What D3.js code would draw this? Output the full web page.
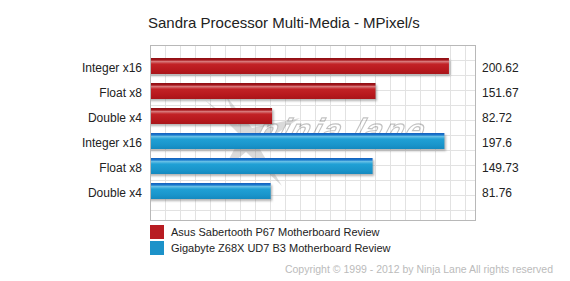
<!DOCTYPE html>
<html>
<head>
<meta charset="utf-8">
<script src="https://cdn.jsdelivr.net/npm/d3@7"></script>
<style>
  body { margin: 0; background: #fff; }
  svg text { font-family: "Liberation Sans", Arial, sans-serif; }
</style>
</head>
<body>
<div id="chart"></div>
<script>
// values
var categories = ["Integer x16", "Float x8", "Double x4", "Integer x16", "Float x8", "Double x4"];
var series = ["Asus Sabertooth P67 Motherboard Review", "Gigabyte Z68X UD7 B3 Motherboard Review"];
var values = [200.62, 151.67, 82.72, 197.6, 149.73, 81.76];
var valueLabels = ["200.62", "151.67", "82.72", "197.6", "149.73", "81.76"];
var seriesOf = [0, 0, 0, 1, 1, 1];
var title = "Sandra Processor Multi-Media - MPixel/s";
var copyright = "Copyright \u00a9 1999 - 2012 by Ninja Lane All rights reserved";

var svgWidth = 570, svgHeight = 281;
var plot = {left: 150, right: 475, top: 45, bottom: 220};

var svg = d3.select("#chart").append("svg")
  .attr("width", svgWidth)
  .attr("height", svgHeight);

var defs = svg.append("defs");

var grads = [
  {id: "gRed", stops: [[0, "#8c0f13"], [0.12, "#a3141a"], [0.22, "#d8787a"], [0.38, "#c22226"], [0.75, "#b7181d"], [1, "#a8151a"]]},
  {id: "gBlue", stops: [[0, "#145fbd"], [0.12, "#1a78cc"], [0.22, "#66bfe6"], [0.38, "#20a0d5"], [0.75, "#1a95cb"], [1, "#1589bf"]]}
];
grads.forEach(function(g) {
  var lg = defs.append("linearGradient").attr("id", g.id)
    .attr("x1", 0).attr("y1", 0).attr("x2", 0).attr("y2", 1);
  g.stops.forEach(function(s) {
    lg.append("stop").attr("offset", s[0]).attr("stop-color", s[1]);
  });
});
defs.append("filter").attr("id", "blur")
  .append("feGaussianBlur").attr("stdDeviation", 0.8);
defs.append("clipPath").attr("id", "plotClip")
  .append("rect")
  .attr("x", plot.left).attr("y", plot.top)
  .attr("width", plot.right - plot.left).attr("height", plot.bottom - plot.top);

var xscale = d3.scaleLinear()
  .domain([0, 218])
  .range([148, plot.right]);
var yscale = d3.scaleBand()
  .domain(d3.range(categories.length))
  .range([53.5, 203.5])
  .paddingInner(0.36)
  .paddingOuter(0.18);
var colorGrad = ["url(#gRed)", "url(#gBlue)"];
var legendColor = ["#b81c22", "#1c92c9"];

// title
svg.append("text")
  .attr("x", 148).attr("y", 27.5)
  .style("font-size", "15px")
  .attr("fill", "#222")
  .text(title);

// grid (15px decorative grid)
var grid = svg.append("g");
d3.range(plot.left + 15, plot.right, 15).forEach(function(x) {
  grid.append("line")
    .attr("x1", x + 0.5).attr("x2", x + 0.5)
    .attr("y1", plot.top).attr("y2", plot.bottom)
    .attr("stroke", "#e2e2e2");
});
d3.range(plot.top + 15, plot.bottom, 15).forEach(function(y) {
  grid.append("line")
    .attr("x1", plot.left).attr("x2", plot.right)
    .attr("y1", y + 0.5).attr("y2", y + 0.5)
    .attr("stroke", "#e2e2e2");
});

// watermark
var wm = svg.append("g").attr("opacity", 0.3);
wm.append("path")
  .attr("d", "M245,140 L205,100 L238,125 L226,96 L252,128 L300,118 L258,146 L282,186 L246,152 L222,172 L236,146 Z")
  .attr("fill", "#888");
wm.append("text")
  .attr("x", 255).attr("y", 141)
  .attr("transform", "skewX(-18) translate(46,0)")
  .style("font-size", "32px")
  .style("font-weight", "bold")
  .style("font-style", "italic")
  .style("letter-spacing", "2px")
  .attr("fill", "#fff")
  .attr("stroke", "#333")
  .attr("stroke-width", 1.2)
  .text("ninja lane");

// bars
var bars = svg.append("g").attr("clip-path", "url(#plotClip)");
bars.selectAll(".shadow")
  .data(values)
  .enter().append("rect")
  .attr("class", "shadow")
  .attr("x", xscale(0))
  .attr("y", (d, i) => yscale(i) + 2)
  .attr("width", d => xscale(d) - xscale(0) + 1.5)
  .attr("height", yscale.bandwidth())
  .attr("fill", "#777")
  .attr("opacity", 0.55)
  .attr("filter", "url(#blur)");
bars.selectAll(".bar")
  .data(values)
  .enter().append("rect")
  .attr("class", "bar")
  .attr("x", xscale(0))
  .attr("y", (d, i) => yscale(i))
  .attr("width", d => xscale(d) - xscale(0))
  .attr("height", yscale.bandwidth())
  .attr("fill", (d, i) => colorGrad[seriesOf[i]]);

// plot border
svg.append("rect")
  .attr("x", plot.left + 0.5).attr("y", plot.top + 0.5)
  .attr("width", plot.right - plot.left).attr("height", plot.bottom - plot.top)
  .attr("fill", "none")
  .attr("stroke", "#b8b8b8");

// category labels
svg.selectAll(".cat")
  .data(categories)
  .enter().append("text")
  .attr("x", 142)
  .attr("y", (d, i) => yscale(i) + yscale.bandwidth() / 2 + 6)
  .attr("text-anchor", "end")
  .style("font-size", "12px")
  .attr("fill", "#222")
  .text(d => d);

// value labels
svg.selectAll(".val")
  .data(valueLabels)
  .enter().append("text")
  .attr("x", 482)
  .attr("y", (d, i) => yscale(i) + yscale.bandwidth() / 2 + 6)
  .style("font-size", "12px")
  .attr("fill", "#222")
  .text(d => d);

// legend
var legend = svg.selectAll(".legend")
  .data(series)
  .enter().append("g")
  .attr("transform", (d, i) => "translate(150," + (225 + i * 16) + ")");
legend.append("rect")
  .attr("width", 14).attr("height", 14)
  .attr("fill", (d, i) => legendColor[i]);
legend.append("text")
  .attr("x", 21).attr("y", 11)
  .style("font-size", "11px")
  .attr("fill", "#222")
  .text(d => d);

// copyright
svg.append("text")
  .attr("x", 553).attr("y", 273)
  .attr("text-anchor", "end")
  .style("font-size", "10.5px")
  .attr("fill", "#bbb")
  .text(copyright);
</script>
</body>
</html>
